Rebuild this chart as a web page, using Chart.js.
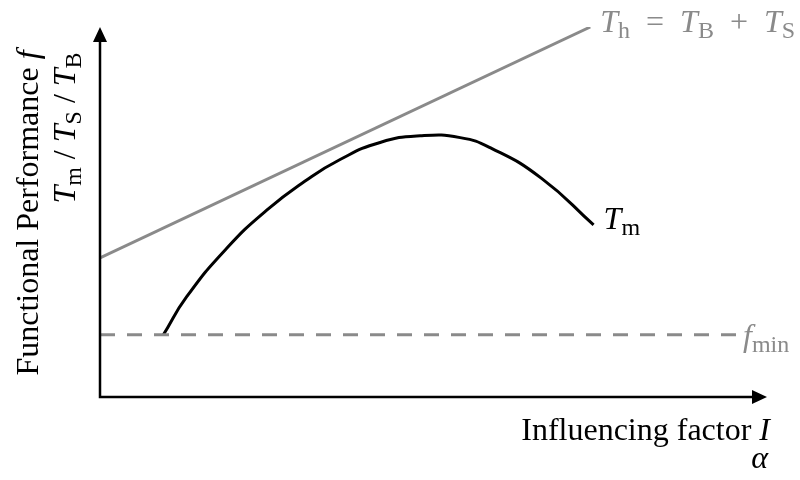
<!DOCTYPE html>
<html>
<head>
<meta charset="utf-8">
<script src="https://cdn.jsdelivr.net/npm/chart.js@4/dist/chart.umd.min.js"></script>
<style>
  html, body { margin: 0; padding: 0; background: #fff; }
  #wrap { width: 800px; height: 480px; }
</style>
</head>
<body>
<div id="wrap"><canvas id="perfChart"></canvas></div>
<script>
// Tm curve (influencing factor -> functional performance)
const tmX = [0.95, 1.3, 1.9, 2.5, 3.07, 3.6, 4.2, 4.8, 5.4, 5.87, 6.62, 7.4];
const tmY = [1.68, 2.71, 4.02, 5.05, 5.83, 6.42, 6.88, 7.06, 7.01, 6.72, 5.91, 4.65];
// Th = TB + TS straight line
const thX = [0, 7.35];
const thY = [3.76, 10.0];
// f_min threshold
const fminX = [0, 9.55];
const fminY = [1.68, 1.68];

const BLACK = "#000000";
const GREY = "#8a8a8a";
const SERIF = "'Liberation Serif', 'Times New Roman', serif";

function toPoints(xs, ys) {
  return xs.map((x, i) => ({ x: x, y: ys[i] }));
}

// draws a list of runs: [text, kind] where kind is "r" roman, "i" italic, "s" subscript
function drawRuns(ctx, runs, x, y, size, color, align) {
  const sub = size * 0.75;
  const fontFor = (k) =>
    k === "i" ? `italic ${size}px ${SERIF}` : k === "s" ? `${sub}px ${SERIF}` : `${size}px ${SERIF}`;
  let total = 0;
  runs.forEach(([t, k]) => {
    ctx.font = fontFor(k);
    total += ctx.measureText(t).width;
  });
  let cx = align === "right" ? x - total : align === "center" ? x - total / 2 : x;
  ctx.fillStyle = color;
  ctx.textBaseline = "alphabetic";
  ctx.textAlign = "left";
  runs.forEach(([t, k]) => {
    ctx.font = fontFor(k);
    ctx.fillText(t, cx, k === "s" ? y + size * 0.2 : y);
    cx += ctx.measureText(t).width;
  });
}

const axesPlugin = {
  id: "axesPlugin",
  afterDraw(chart) {
    const ctx = chart.ctx;
    const area = chart.chartArea;
    const xs = chart.scales.x;
    const ys = chart.scales.y;
    const ox = area.left;
    const oy = area.bottom;

    ctx.save();
    // axis lines
    ctx.strokeStyle = BLACK;
    ctx.lineWidth = 2.5;
    ctx.beginPath();
    ctx.moveTo(ox, area.top + 10);
    ctx.lineTo(ox, oy);
    ctx.lineTo(area.right - 10, oy);
    ctx.stroke();
    // arrow heads
    ctx.fillStyle = BLACK;
    ctx.beginPath();
    ctx.moveTo(ox, area.top);
    ctx.lineTo(ox - 7, area.top + 15);
    ctx.lineTo(ox + 7, area.top + 15);
    ctx.closePath();
    ctx.fill();
    ctx.beginPath();
    ctx.moveTo(area.right, oy);
    ctx.lineTo(area.right - 15, oy - 7);
    ctx.lineTo(area.right - 15, oy + 7);
    ctx.closePath();
    ctx.fill();

    // x axis labels
    drawRuns(ctx, [["Influencing factor ", "r"], ["I", "i"]], 770, 440, 32, BLACK, "right");
    drawRuns(ctx, [["\u03b1", "i"]], 768, 468, 32, BLACK, "right");

    // y axis labels (rotated)
    ctx.save();
    ctx.translate(38, 213);
    ctx.rotate(-Math.PI / 2);
    drawRuns(ctx, [["Functional Performance ", "r"], ["f", "i"]], 0, 0, 32, BLACK, "center");
    ctx.restore();
    ctx.save();
    ctx.translate(75, 128);
    ctx.rotate(-Math.PI / 2);
    drawRuns(ctx, [["T", "i"], ["m", "s"], [" / ", "r"], ["T", "i"], ["S", "s"], [" / ", "r"], ["T", "i"], ["B", "s"]],
      0, 0, 32, BLACK, "center");
    ctx.restore();

    // series labels next to line ends
    const thEndX = xs.getPixelForValue(thX[thX.length - 1]);
    const thEndY = ys.getPixelForValue(thY[thY.length - 1]);
    drawRuns(ctx, [["T", "i"], ["h", "s"], ["  =  ", "r"], ["T", "i"], ["B", "s"], ["  +  ", "r"], ["T", "i"], ["S", "s"]],
      thEndX + 10, thEndY + 5, 32, GREY, "left");

    const tmEndX = xs.getPixelForValue(tmX[tmX.length - 1]);
    const tmEndY = ys.getPixelForValue(tmY[tmY.length - 1]);
    drawRuns(ctx, [["T", "i"], ["m", "s"]], tmEndX + 10, tmEndY + 4, 32, BLACK, "left");

    const fEndX = xs.getPixelForValue(fminX[fminX.length - 1]);
    const fEndY = ys.getPixelForValue(fminY[fminY.length - 1]);
    drawRuns(ctx, [["f", "i"], ["min", "s"]], fEndX + 6, fEndY + 11, 32, GREY, "left");
    ctx.restore();
  },
};

new Chart(document.getElementById("perfChart"), {
  type: "line",
  data: {
    datasets: [
      {
        label: "Th",
        data: toPoints(thX, thY),
        borderColor: GREY,
        borderWidth: 3,
        tension: 0,
      },
      {
        label: "fmin",
        data: toPoints(fminX, fminY),
        borderColor: GREY,
        borderWidth: 3,
        borderDash: [15, 12],
        tension: 0,
      },
      {
        label: "Tm",
        data: toPoints(tmX, tmY),
        borderColor: BLACK,
        borderWidth: 3,
        tension: 0.5,
        cubicInterpolationMode: "default",
      },
    ],
  },
  options: {
    responsive: true,
    maintainAspectRatio: false,
    animation: false,
    elements: {
      line: { tension: 0.5, capBezierPoints: false, fill: false },
      point: { radius: 0, hoverRadius: 0 },
    },
    layout: {
      padding: { left: 100, top: 27, right: 33, bottom: 83 },
    },
    plugins: {
      legend: { display: false },
      tooltip: { enabled: false },
    },
    scales: {
      x: { type: "linear", min: 0, max: 10, display: false },
      y: { type: "linear", min: 0, max: 10, display: false },
    },
  },
  plugins: [axesPlugin],
});
</script>
</body>
</html>
